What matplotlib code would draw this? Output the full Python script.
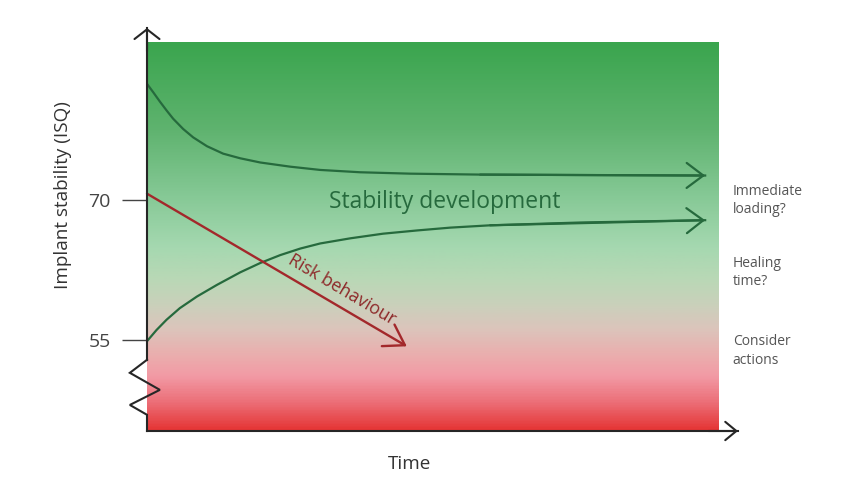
import numpy as np
import matplotlib
matplotlib.use('Agg')
import matplotlib.pyplot as plt
from matplotlib.colors import LinearSegmentedColormap

# curves (time in arbitrary units, ISQ on y)
upper_t = [0, 0.13, 0.27, 0.41, 0.55, 0.76, 0.97, 1.26, 1.60, 1.96, 2.38, 3.01,
           3.64, 4.48, 5.53, 7.00, 9.10, 11.73]
upper_isq = [82.5, 81.6, 80.6, 79.65, 78.75, 77.65, 76.75, 75.8, 75.0, 74.5, 74.05, 73.6,
             73.25, 73.0, 72.85, 72.75, 72.7, 72.65]

lower_t = [0, 0.20, 0.41, 0.69, 1.05, 1.47, 1.96, 2.38, 2.80, 3.22, 3.64, 4.27,
           4.96, 5.68, 6.37, 7.21, 9.10, 11.73]
lower_isq = [54.85, 56.05, 57.15, 58.4, 59.65, 60.9, 62.25, 63.25, 64.1, 64.8, 65.35, 65.9,
             66.4, 66.75, 67.05, 67.3, 67.6, 67.85]

risk_t = [0, 5.46]
risk_isq = [70.7, 54.3]

yticks = [55, 70]
side_labels = ['Immediate\nloading?', 'Healing\ntime?', 'Consider\nactions']
side_isq = [70.0, 62.2, 53.8]

t_end = 12.0          # end of shaded zone
isq_bottom, isq_top = 45.2, 86.9

plt.rcParams['font.family'] = ['Open Sans', 'DejaVu Sans']

fig = plt.figure(figsize=(8.64, 4.86), dpi=100)
ax = fig.add_axes([147 / 864, 55 / 486, 591 / 864, 403 / 486])
ax.set_xlim(0, 12.42)
ax.set_ylim(isq_bottom, 88.5)

# background gradient green -> red
stops = [(0.0, '#3aa54e'), (0.224, '#5fb36f'), (0.397, '#86c996'), (0.526, '#a5d8b0'),
         (0.611, '#b9d8b6'), (0.680, '#cbd0bb'), (0.740, '#dcc4bb'), (0.809, '#ebadad'),
         (0.861, '#f29aa5'), (0.928, '#ec6f78'), (1.0, '#e53535')]
cmap = LinearSegmentedColormap.from_list('stab', stops)
grad = np.linspace(0, 1, 400).reshape(-1, 1)
ax.imshow(grad, cmap=cmap, aspect='auto', extent=[0, t_end, isq_bottom, isq_top],
          origin='upper', zorder=0)

# stability curves with open arrow heads
green = '#266a3d'
ax.plot(upper_t, upper_isq, color=green, lw=1.6, zorder=3, solid_joinstyle='round')
ax.plot(lower_t, lower_isq, color=green, lw=1.6, zorder=3, solid_joinstyle='round')
head = dict(arrowstyle='->,head_length=0.6,head_width=0.45', color=green, lw=1.6,
            shrinkA=0, shrinkB=0, mutation_scale=20)
ax.annotate('', xy=(upper_t[-1], upper_isq[-1]), xytext=(upper_t[-3], upper_isq[-3]),
            arrowprops=head, zorder=3)
ax.annotate('', xy=(lower_t[-1], lower_isq[-1]), xytext=(lower_t[-3], lower_isq[-3]),
            arrowprops=head, zorder=3)

# risk behaviour arrow
red = '#a3282b'
ax.annotate('', xy=(risk_t[1], risk_isq[1]), xytext=(risk_t[0], risk_isq[0]),
            arrowprops=dict(arrowstyle='->,head_length=0.7,head_width=0.45', color=red,
                            lw=1.7, shrinkA=0, shrinkB=0, mutation_scale=20), zorder=4)

ax.text(6.25, 69.8, 'Stability development', color=green, fontsize=16.5,
        ha='center', va='center', zorder=5)
ax.text(4.10, 60.4, 'Risk behaviour', color='#8e2a2a', fontsize=12.8,
        ha='center', va='center', rotation=-30.6, rotation_mode='anchor', zorder=5)

for lab, y in zip(side_labels, side_isq):
    ax.text(12.31, y, lab, color='#555555', fontsize=10, ha='left', va='center',
            linespacing=1.3, clip_on=False)

# axes: spines, ticks, break on y axis
axc = '#262626'
for s in ['top', 'right']:
    ax.spines[s].set_visible(False)
ax.spines['left'].set_bounds(52.85, 88.5)
ax.spines['left'].set_color(axc)
ax.spines['left'].set_linewidth(1.5)
ax.spines['bottom'].set_color(axc)
ax.spines['bottom'].set_linewidth(1.5)
ax.spines['bottom'].set_zorder(6)
ax.spines['left'].set_zorder(6)

zig_t = [0, -0.36, 0.27, -0.36, 0, 0]
zig_isq = [52.85, 51.45, 49.62, 48.0, 46.94, isq_bottom]
ax.plot(zig_t, zig_isq, color=axc, lw=1.5, clip_on=False, zorder=6,
        solid_joinstyle='miter')

ax.annotate('', xy=(0, 88.5), xytext=(0, 86.0),
            arrowprops=dict(arrowstyle='->,head_length=0.35,head_width=0.45', color=axc,
                            lw=1.5, shrinkA=0, shrinkB=0, mutation_scale=20),
            annotation_clip=False)
ax.annotate('', xy=(12.42, isq_bottom), xytext=(11.8, isq_bottom),
            arrowprops=dict(arrowstyle='->,head_length=0.4,head_width=0.33', color=axc,
                            lw=1.5, shrinkA=0, shrinkB=0, mutation_scale=20),
            annotation_clip=False)

ax.set_xticks([])
ax.set_yticks(yticks)
ax.set_yticklabels([str(v) for v in yticks])
ax.tick_params(axis='y', length=18, width=1.0, color='#444444', pad=8,
               labelsize=14, labelcolor='#444444')

ax.set_ylabel('Implant stability (ISQ)', fontsize=13.6, color='#333333')
ax.yaxis.set_label_coords(-0.142, 0.586)
ax.yaxis.label.set_va('center')
ax.set_xlabel('Time', fontsize=13.6, color='#333333')
ax.xaxis.set_label_coords(0.445, -0.082)
ax.xaxis.label.set_va('center')

fig.savefig('out.png', dpi=100, facecolor='white')
